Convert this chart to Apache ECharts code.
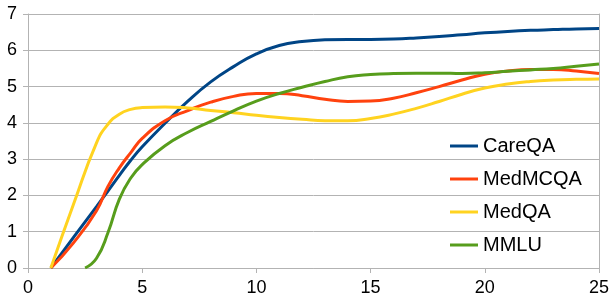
<!DOCTYPE html>
<html>
<head>
<meta charset="utf-8">
<script src="https://cdn.jsdelivr.net/npm/echarts@6/dist/echarts.min.js"></script>
<style>
html,body{margin:0;padding:0;background:#fff;}
#chart{width:616px;height:305px;}
</style>
</head>
<body>
<div id="chart"></div>
<script>
var seriesNames = ["CareQA", "MedMCQA", "MedQA", "MMLU"];
var xMain = [1, 2, 3, 3.5, 4, 4.5, 5, 6, 7, 8, 9, 10, 11, 12, 13, 14, 15, 16, 17, 18, 19, 20, 21, 22, 23, 24, 25];
var careQA = [0, 0.85, 1.69, 2.12, 2.55, 2.97, 3.34, 3.99, 4.6, 5.13, 5.55, 5.9, 6.13, 6.24, 6.29, 6.3, 6.3, 6.31, 6.34, 6.38, 6.43, 6.48, 6.52, 6.55, 6.57, 6.59, 6.6];
var medMCQA = [0, 0.7, 1.58, 2.25, 2.76, 3.18, 3.57, 4.06, 4.34, 4.57, 4.73, 4.81, 4.81, 4.75, 4.65, 4.59, 4.6, 4.68, 4.83, 5.0, 5.18, 5.34, 5.43, 5.47, 5.47, 5.43, 5.36];
var medQA = [0, 1.77, 3.45, 3.96, 4.24, 4.37, 4.42, 4.44, 4.41, 4.34, 4.28, 4.21, 4.15, 4.1, 4.06, 4.06, 4.12, 4.24, 4.4, 4.59, 4.79, 4.96, 5.07, 5.14, 5.18, 5.2, 5.21];
var xMMLU = [2.5, 3, 3.5, 4, 4.5, 5, 6, 7, 8, 9, 10, 11, 12, 13, 14, 15, 16, 17, 18, 19, 20, 21, 22, 23, 24, 25];
var mmlu = [0, 0.27, 0.97, 1.9, 2.48, 2.85, 3.37, 3.74, 4.04, 4.33, 4.6, 4.81, 4.98, 5.14, 5.27, 5.33, 5.36, 5.37, 5.37, 5.36, 5.38, 5.42, 5.46, 5.5, 5.56, 5.62];
var xTicks = [0, 5, 10, 15, 20, 25];
var yTicks = [0, 1, 2, 3, 4, 5, 6, 7];
var colors = ["#004586", "#ff420e", "#ffd320", "#579d1c"];

function pairs(xs, ys) { return xs.map(function (x, i) { return [x, ys[i]]; }); }
var seriesData = [pairs(xMain, careQA), pairs(xMain, medMCQA), pairs(xMain, medQA), pairs(xMMLU, mmlu)];

var chart = echarts.init(document.getElementById('chart'), null, {renderer: 'canvas'});
var font = 'Liberation Sans, Arial, sans-serif';
chart.setOption({
  animation: false,
  color: colors,
  grid: {left: 28, right: 17, top: 14, bottom: 37, containLabel: false},
  legend: {
    orient: 'vertical',
    left: 450,
    top: 136,
    padding: 0,
    icon: 'rect',
    itemWidth: 28,
    itemHeight: 3,
    itemGap: 13,
    data: seriesNames,
    textStyle: {fontFamily: font, fontSize: 20, color: '#000'}
  },
  xAxis: {
    type: 'value',
    min: xTicks[0],
    max: xTicks[xTicks.length - 1],
    interval: 5,
    axisLine: {show: true, lineStyle: {color: '#b3b3b3', width: 1}},
    axisTick: {show: true, length: 5, lineStyle: {color: '#b3b3b3'}},
    splitLine: {show: false},
    axisLabel: {fontFamily: font, fontSize: 18, color: '#000', margin: 11}
  },
  yAxis: [{
    type: 'value',
    min: yTicks[0],
    max: yTicks[yTicks.length - 1],
    interval: 1,
    axisLine: {show: true, lineStyle: {color: '#b3b3b3', width: 1}},
    axisTick: {show: true, length: 5, lineStyle: {color: '#b3b3b3'}},
    splitLine: {show: true, lineStyle: {color: '#b3b3b3', width: 1}},
    axisLabel: {fontFamily: font, fontSize: 18, color: '#000', margin: 11}
  }, {
    type: 'value',
    position: 'right',
    min: yTicks[0],
    max: yTicks[yTicks.length - 1],
    interval: 1,
    axisLine: {show: true, lineStyle: {color: '#b3b3b3', width: 1}},
    axisTick: {show: false},
    splitLine: {show: false},
    axisLabel: {show: false}
  }],
  series: seriesNames.map(function (name, i) {
    return {
      name: name,
      type: 'line',
      data: seriesData[i],
      smooth: 0.5,
      symbol: 'none',
      lineStyle: {width: 3, color: colors[i]},
      itemStyle: {color: colors[i]}
    };
  })
});
</script>
</body>
</html>
